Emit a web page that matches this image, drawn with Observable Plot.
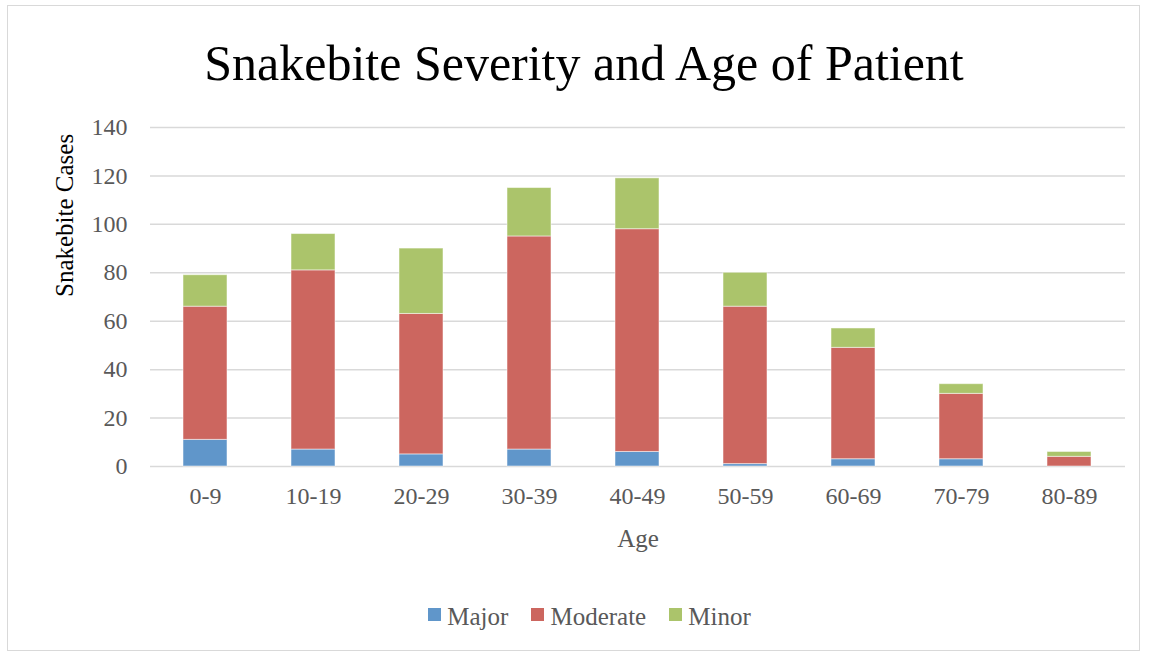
<!DOCTYPE html>
<html><head><meta charset="utf-8">
<script src="https://cdn.jsdelivr.net/npm/d3@7"></script>
<script src="https://cdn.jsdelivr.net/npm/@observablehq/plot@0.6"></script>
<style>
body{margin:0;background:#fff;}
#wrap{position:relative;width:1149px;height:658px;overflow:hidden;font-family:"Liberation Serif",serif;}
#frame{position:absolute;left:7px;top:5px;width:1133px;height:646px;border:1.5px solid #d9d9d9;box-sizing:border-box;}
#title{position:absolute;left:0;width:1168px;top:33px;text-align:center;font-size:50px;color:#000;line-height:60px;}
#chart{position:absolute;left:0;top:0;}
#legend{position:absolute;top:602px;left:15px;width:1149px;display:flex;justify-content:center;gap:23px;font-size:25px;color:#595959;line-height:30px;}
#legend span.item{display:flex;align-items:center;}
#legend span.sw{display:inline-block;width:13px;height:13px;margin-right:6px;margin-top:-6px;}
</style></head>
<body><div id="wrap"><div id="frame"></div><div id="chart"></div><div id="title">Snakebite Severity and Age of Patient</div><div id="legend"></div></div>
<script>
const ages = ["0-9","10-19","20-29","30-39","40-49","50-59","60-69","70-79","80-89"];
const severities = ["Major","Moderate","Minor"];
const major = [11,7,5,7,6,1,3,3,0];
const moderate = [55,74,58,88,92,65,46,27,4];
const minor = [13,15,27,20,21,14,8,4,2];
const colors = ["#6096CA","#CC665F","#ABC46B"];
const yTicks = [0,20,40,60,80,100,120,140];

const series = [major, moderate, minor];
const data = [];
severities.forEach((s, si) => ages.forEach((a, ai) => data.push({age: a, severity: s, value: series[si][ai]})));

const chart = Plot.plot({
  width: 1149, height: 658,
  marginLeft: 150, marginRight: 24, marginTop: 127, marginBottom: 192,
  style: {fontFamily: '"Liberation Serif", serif', fontSize: "24px", color: "#595959", background: "transparent"},
  x: {domain: ages, paddingInner: 0.59, paddingOuter: 0.295, label: null},
  y: {domain: [0, 140], label: null},
  color: {domain: severities, range: colors},
  marks: [
    Plot.gridY(yTicks, {stroke: "#d9d9d9", strokeOpacity: 1, strokeWidth: 1.5}),
    Plot.barY(data, {x: "age", y: "value", fill: "severity", order: severities, stroke: "white", strokeOpacity: 0.5, strokeWidth: 1}),
    Plot.axisY(yTicks, {tickSize: 0, tickPadding: 23, fontSize: 24, fill: "#595959", label: null}),
    Plot.axisX({tickSize: 0, tickPadding: 20, fontSize: 24, fill: "#595959", label: null}),
    Plot.text(["Age"], {frameAnchor: "bottom", dy: 72, fontSize: 25, fill: "#595959", lineAnchor: "middle"}),
    Plot.text(["Snakebite Cases"], {frameAnchor: "left", dx: -86, rotate: -90, fontSize: 25, fill: "#000"})
  ]
});
document.getElementById("chart").appendChild(chart);

const leg = document.getElementById("legend");
severities.forEach((s, i) => {
  const it = document.createElement("span"); it.className = "item";
  const sw = document.createElement("span"); sw.className = "sw"; sw.style.background = colors[i];
  it.appendChild(sw); it.appendChild(document.createTextNode(s));
  leg.appendChild(it);
});
</script></body></html>
